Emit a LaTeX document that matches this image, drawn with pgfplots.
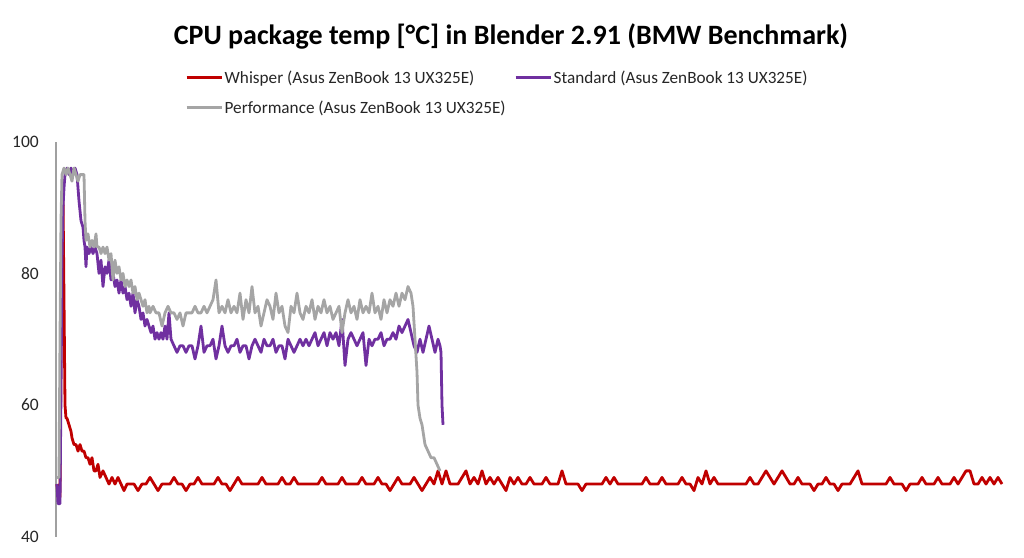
\documentclass[border=0pt]{standalone}
\usepackage{pgfplots}
\pgfplotsset{compat=1.18}
\usepackage{fontspec}
\setmainfont{Carlito}
\definecolor{cred}{HTML}{C00000}
\definecolor{cpurple}{HTML}{7030A0}
\definecolor{cgray}{HTML}{A5A5A5}
\definecolor{caxis}{HTML}{A0A0A0}
\begin{document}
\begin{tikzpicture}[x=1pt,y=1pt]
\path[use as bounding box] (0,0) rectangle (1024,557);
\node[font=\fontsize{28}{32}\selectfont\bfseries, anchor=center] at (511,521) {CPU package temp [°C] in Blender 2.91 (BMW Benchmark)};
\begin{axis}[
  at={(56pt,20.3pt)}, anchor=south west,
  scale only axis, width=947pt, height=395pt,
  xmin=56, xmax=1003, ymin=40, ymax=100,
  enlargelimits=false,
  axis y line=left, axis x line=none,
  axis line style={caxis, line width=1.4pt, -},
  xtick=\empty,
  ytick={40,60,80,100},
  major tick length=0pt,
  ytick style={draw=none},
  /pgf/number format/assume math mode=true,
  yticklabel style={font=\fontsize{17.5}{20}\selectfont, text=black!85, anchor=east, inner sep=0pt, xshift=-17pt},
  legend columns=2,
  legend cell align=left,
  legend style={at={(0.1362,1.184)}, anchor=north west, draw=none, fill=none,
    inner sep=0pt, font=\fontsize{17.2}{20}\selectfont, text=black!85,
    nodes={inner sep=1.5pt}, row sep=13pt,
    /tikz/every even column/.append style={column sep=7pt}},
  legend image code/.code={\draw[#1, line width=3pt] (0pt,0pt) -- (35pt,0pt);},
  every axis plot/.append style={line width=2.8pt, line join=round},
  clip=false,
]
\addplot[cred, mark=none] coordinates {
(57,48)(58,46)(60,46)(61,70)(62,88)(63,92)(64,76)(65,60)(66,58)(67,58)(69,57)(71,56)(72,55)(74,54)(76,54)(78,53)(80,54)(82,53)(84,53)(86,52)(88,52)(90,51)(92,52)(94,50)(96,50)(98,51)(100,49)(103,50)(106,49)(109,48)(112,49)(115,48)(118,49)(121,48)(124,47)(127,48)
(130,48)(134,48)(138,47)(142,48)(146,48)(150,49)(154,48)(158,47)(162,48)(166,48)
(170,48)(174,49)(178,48)(182,48)(186,47)(190,48)(194,48)(198,49)(202,48)(206,48)
(210,48)(214,48)(218,49)(222,48)(226,48)(230,47)(234,48)(238,49)(242,48)(246,48)
(250,48)(254,48)(258,48)(262,49)(266,48)(270,48)(274,48)(278,48)(282,49)(286,48)
(290,48)(294,49)(298,48)(302,48)(306,48)(310,48)(314,48)(318,48)(322,49)(326,48)
(330,48)(334,48)(338,48)(342,49)(346,48)(350,48)(354,48)(358,48)(362,49)(366,48)
(370,48)(374,48)(378,49)(382,48)(386,48)(390,47)(394,48)(398,49)(402,48)(406,48)
(410,48)(414,49)(418,48)(422,47)(426,48)(430,49)(434,48)(438,50)(442,48)(446,50)
(450,48)(454,48)(458,48)(462,49)(466,50)(470,48)(474,49)(478,48)(482,50)(486,48)
(490,49)(494,48)(498,49)(502,48)(506,47)(510,49)(514,48)(518,49)(522,48)(526,48)
(530,49)(534,48)(538,48)(542,48)(546,49)(550,48)(554,48)(558,48)(562,50)(566,48)
(570,48)(574,48)(578,48)(582,47)(586,48)(590,48)(594,48)(598,48)(602,48)(606,49)
(610,48)(614,49)(618,48)(622,48)(626,48)(630,48)(634,48)(638,48)(642,48)(646,49)
(650,48)(654,48)(658,48)(662,49)(666,48)(670,48)(674,48)(678,48)(682,49)(686,48)
(690,48)(694,47)(698,49)(702,48)(706,50)(710,48)(714,49)(718,48)(722,48)(726,48)
(730,48)(734,48)(738,48)(742,48)(746,48)(750,49)(754,48)(758,48)(762,49)(766,50)
(770,49)(774,48)(778,49)(782,50)(786,49)(790,48)(794,48)(798,49)(802,48)(806,48)
(810,48)(814,47)(818,48)(822,48)(826,49)(830,48)(834,48)(838,47)(842,48)(846,48)
(850,48)(854,49)(858,50)(862,48)(866,48)(870,48)(874,48)(878,48)(882,48)(886,48)
(890,49)(894,48)(898,48)(902,48)(906,47)(910,48)(914,48)(918,48)(922,49)(926,48)
(930,48)(934,48)(938,49)(942,48)(946,48)(950,48)(954,49)(958,48)(962,49)(966,50)
(970,50)(974,48)(978,48)(982,49)(986,48)(990,49)(994,48)(998,49)(1002,48)
};
\addlegendentry{Whisper (Asus ZenBook 13 UX325E)}
\addplot[cpurple, mark=none] coordinates {
(57,48)(58,45)(60,45)(61,62)(62,82)(63,90)(64,93)(65,95)(67,96)(69,95)(71,96)(73,95)(75,96)(77,95)(79,91)(81,88)(83,87)(84,85)(85,84)(86,81)(87,84)(89,83)(91,84)(93,83)(95,84)(97,83)(99,80)(101,82)(103,78)(105,81)(107,80)(109,82)(111,79)(113,80)(115,78)(117,79)(119,77)(121,79)(123,77)(125,78)(127,76)(129,77)(131,75)(133,77)(135,74)(137,76)(139,75)(141,73)(143,74)(145,72)(147,73)(149,72)(151,71)(153,72)(155,70)(157,71)(159,70)(161,71)(163,70)(165,72)(167,70)(169,74)(171,70)(174,69)(177,68)(180,69)(183,69)(186,68)(189,69)(192,69)(195,67)(198,69)(201,72)(204,68)(207,69)(210,69)(213,70)(216,67)(219,69)(222,72)(225,69)(228,68)(231,69)(234,69)(237,70)(240,68)(243,69)(246,69)(249,67)(252,69)(255,70)(258,69)(261,68)(264,70)(267,69)(270,69)(273,70)(276,68)(279,69)(282,69)(285,67)(288,70)(291,69)(294,68)(297,69)(300,70)(303,69)(306,70)(309,69)(312,70)(315,71)(318,69)(321,70)(324,71)(327,69)(330,71)(333,70)(336,71)(339,69)(342,73)(345,66)(348,70)(351,71)(354,70)(357,69)(360,70)(363,71)(366,66)(369,70)(372,69)(375,70)(378,70)(381,71)(384,69)(387,70)(390,70)(393,71)(396,70)(399,72)(402,71)(405,72)(408,73)(411,71)(414,69)(417,68)(420,70)(423,68)(426,70)(429,72)(432,70)(435,68)(438,70)(440,69)(441,68)(442,60)(443,57)
};
\addlegendentry{Standard (Asus ZenBook 13 UX325E)}
\addplot[cgray, mark=none] coordinates {
(57,49)(59,49)(60,70)(61,88)(62,95)(64,96)(66,95)(68,96)(70,95)(72,94)(74,96)(76,95)(78,94)(80,95)(82,95)(84,95)(85,88)(86,85)(88,86)(90,84)(92,85)(94,84)(96,86)(97,84)(99,84)(101,83)(103,84)(105,83)(107,84)(109,82)(111,83)(113,79)(115,82)(117,80)(119,81)(121,79)(123,80)(125,78)(127,79)(129,78)(131,79)(133,77)(135,78)(137,76)(139,77)(141,76)(143,75)(145,76)(147,74)(149,75)
(150,74)(153,75)(156,74)(159,74)(162,72)(165,74)(168,75)(171,74)(174,74)(177,73)(180,74)(183,72)(186,74)(189,74)(192,74)(195,75)(198,74)(201,74)(204,75)(207,74)(210,75)(213,76)(216,79)(219,74)(222,75)(225,74)(228,76)(231,74)(234,75)(237,74)(240,77)(243,73)(246,76)(249,74)(252,78)(255,74)(258,75)(261,72)(264,74)(267,76)(270,75)(273,73)(276,77)(279,74)(282,75)(285,72)(288,71)(291,75)(294,74)(297,77)(300,74)(303,73)(306,75)(309,74)(312,76)(315,73)(318,75)(321,74)(324,76)(327,74)(330,75)(333,73)(336,74)(339,75)(342,71)(345,74)(348,76)(351,74)(354,75)(357,73)(360,76)(363,74)(366,75)(369,74)(372,77)(375,74)(378,75)(381,73)(384,76)(387,74)(390,76)(393,75)(396,77)(399,75)(402,77)(405,76)(408,78)(411,77)(413,75)(415,70)(417,65)(418,60)(420,58)(422,57)(425,54)(428,53)(431,52)(434,52)(437,51)(440,50)
};
\addlegendentry{Performance (Asus ZenBook 13 UX325E)}
\end{axis}
\end{tikzpicture}
\end{document}
